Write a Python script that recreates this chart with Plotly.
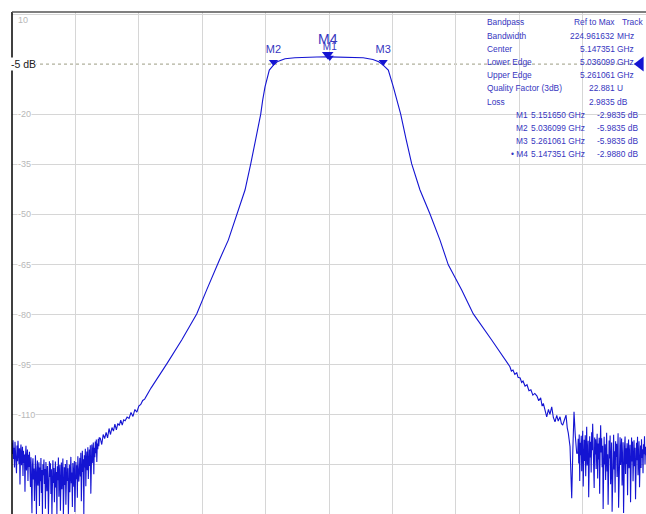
import numpy as np
import plotly.graph_objects as go

# ---------------- data ----------------
f_start, f_stop = 4.5, 5.8
grid_db = [10, -20, -35, -50, -65, -80, -95, -110, -125, -140]
label_db = [10, -20, -35, -50, -65, -80, -95, -110]
ref_level_db = -5

# left noise floor (dB), swept from 4.500 to 4.679 GHz
left_noise_db = [
    -118.4, -121.7, -117.6, -123.2, -119.9, -125.8, -118.1, -122.4, -120.3, -127.5, -119.2, -123.9,
    -117.8, -121.6, -124.7, -120.0, -130.9, -121.3, -118.9, -125.1, -122.2, -119.6, -128.3, -120.8,
    -124.4, -121.9, -133.0, -122.6, -119.3, -126.7, -123.5, -120.4, -129.8, -122.0, -125.6, -121.1,
    -124.3, -131.6, -122.7, -127.9, -139.5, -125.2, -123.0, -129.4, -126.1, -135.8, -124.6, -122.1,
    -128.7, -140.0, -126.9, -123.7, -131.2, -127.4, -124.2, -137.3, -125.8, -129.9, -122.9, -133.4,
    -126.5, -140.0, -124.8, -128.1, -123.4, -130.7, -126.2, -138.1, -124.1, -127.6, -132.9, -125.3,
    -129.2, -140.0, -126.7, -123.9,
    -128.6, -124.5, -133.7, -126.3, -140.0, -127.8, -123.6, -130.4, -125.9, -136.2, -128.2, -124.0,
    -131.8, -127.1, -140.0, -125.4, -129.6, -122.8, -134.5, -127.5, -125.0, -138.7, -129.1, -124.3,
    -132.3, -126.6, -123.1, -140.0, -128.4, -125.7, -131.0, -124.7, -136.9, -127.0, -123.5, -129.8,
    -126.0, -140.0, -128.9, -124.9, -133.2, -125.6, -122.6, -130.5, -127.3, -137.6, -124.4, -128.0,
    -131.5, -123.8, -139.1, -126.4, -124.1, -129.3, -125.1, -134.8, -122.4, -127.2, -130.0, -124.6,
    -122.9, -128.5, -121.4, -135.9, -124.2, -120.8, -127.1, -123.3, -140.0, -122.1, -125.8, -120.2,
    -131.4, -123.9, -121.0, -126.6, -119.7, -129.2, -122.6, -120.4, -125.3, -119.1, -133.6, -121.8,
    -118.9, -124.5, -120.6, -118.3, -127.8, -119.9, -122.7, -118.0, -121.5, -117.4, -124.1, -118.6,
    -120.3, -117.2, -119.4, -116.9]
left_noise_range = [4.500, 4.679]

left_jitter_f = [4.681, 4.684, 4.687, 4.690, 4.693, 4.696, 4.699, 4.702, 4.705, 4.708,
                 4.711, 4.714, 4.717, 4.720, 4.723, 4.726, 4.729, 4.732, 4.736, 4.740,
                 4.744, 4.748, 4.752, 4.756, 4.760, 4.764, 4.768, 4.772, 4.776, 4.780,
                 4.785, 4.790, 4.795, 4.800, 4.806, 4.812, 4.818]
left_jitter_db = [-117.0, -118.9, -115.9, -117.1, -115.3, -116.9, -114.1, -115.9, -113.8, -114.9,
                  -112.8, -114.5, -112.6, -113.2, -111.6, -113.1, -111.5, -111.8, -110.7, -111.1,
                  -109.3, -110.5, -108.4, -109.2, -107.4, -106.9, -105.7, -105.3, -104.2, -103.4,
                  -102.0, -100.9, -99.8, -98.7, -97.3, -96.1, -94.6]

left_skirt_f = [4.848, 4.8787, 4.8992, 4.9197, 4.9251, 4.9435, 4.962, 4.9778, 4.9895,
                5.0003, 5.0100, 5.0141, 5.0188, 5.0276]
left_skirt_db = [-87.6, -79.8, -72.6, -65.1, -63.7, -57.7, -49.9, -42.7, -34.9,
                 -27.4, -20.0, -15.7, -11.8, -6.8]

passband_f = [5.0361, 5.045, 5.06, 5.08, 5.10, 5.125, 5.15, 5.175, 5.20, 5.22, 5.24, 5.252, 5.2611]
passband_db = [-5.3, -4.2, -3.4, -3.1, -2.95, -2.88, -2.85, -2.88, -2.95, -3.1, -3.6, -4.3, -5.3]

right_skirt_f = [5.2716, 5.2819, 5.2888, 5.2970, 5.3079, 5.3196, 5.3366, 5.3571, 5.3776,
                 5.3913, 5.3946, 5.4221, 5.4459, 5.4836, 5.5100, 5.5177]
right_skirt_db = [-6.8, -11.8, -15.7, -20.0, -27.4, -34.9, -42.7, -49.9, -57.7,
                  -63.7, -65.1, -72.6, -79.8, -87.6, -93.4, -95.1]

right_ripple_f = [5.5210, 5.5240, 5.5273, 5.5310, 5.5350, 5.5376, 5.5420, 5.5450, 5.5478, 5.5520,
                  5.5560, 5.5600, 5.5640, 5.5680, 5.5720, 5.5765, 5.5800, 5.5840, 5.5870, 5.5895,
                  5.5930, 5.5964, 5.6000, 5.6030, 5.6067, 5.6100, 5.6134, 5.6170, 5.6200, 5.6237,
                  5.6265, 5.6292, 5.6330, 5.6360, 5.6385, 5.6407, 5.6442, 5.6462, 5.6477, 5.6500,
                  5.6524, 5.6550, 5.6579]
right_ripple_db = [-95.6, -96.9, -96.6, -97.9, -97.4, -98.8, -99.0, -100.3, -99.9, -101.4,
                   -101.0, -102.8, -102.5, -104.1, -103.6, -104.4, -105.8, -104.9, -107.4, -106.6,
                   -109.2, -110.6, -108.4, -109.9, -107.6, -110.8, -112.1, -110.2, -111.9, -110.6,
                   -112.6, -113.1, -111.4, -110.1, -113.9, -115.5, -119.5, -126.8, -135.0, -120.3,
                   -109.1, -116.2, -121.5]

# right noise floor (dB), swept from 5.660 to 5.800 GHz
right_noise_db = [
    -121.5, -117.2, -124.6, -115.9, -129.8, -118.4, -122.1, -116.3, -126.9, -119.7, -114.8, -131.5,
    -120.2, -117.5, -123.8, -116.1, -128.4, -118.9, -113.6, -125.2, -121.0, -117.8, -134.7, -119.5,
    -116.4, -122.8, -118.1, -127.3, -115.2, -120.6, -112.7, -124.3, -119.0, -131.9, -116.8, -121.9,
    -117.3, -126.2, -120.1, -115.7, -129.1, -118.6, -123.4, -116.9, -133.6, -119.8,
    -113.1, -121.3, -117.0, -125.7, -119.3, -138.2, -122.5, -116.6, -124.9, -118.8, -129.5, -120.7,
    -115.4, -127.0, -121.8, -136.9, -119.1, -117.7, -123.1, -116.2, -130.8, -122.0, -118.3, -139.0,
    -124.2, -119.6, -116.0, -126.4, -120.9, -133.3, -117.9, -122.6, -118.7, -128.6, -121.4, -115.5,
    -137.8, -123.7, -119.2, -116.7,
    -125.0, -120.4, -117.1, -131.2, -121.7, -118.2, -139.4, -123.0, -119.4, -116.5, -127.7, -120.0,
    -124.7, -118.5, -134.1, -121.2, -117.4, -126.0, -122.3, -119.0, -136.2, -120.8, -116.8, -124.0,
    -118.0, -129.9, -121.6, -117.6, -125.4, -119.9, -135.3, -122.4, -118.4, -123.6, -116.6, -128.1,
    -120.5, -117.9, -131.7, -121.1, -119.2, -125.9, -117.3, -122.9, -120.3, -127.5, -118.8, -121.8,
    -116.4, -124.8, -119.6, -122.1]
right_noise_range = [5.660, 5.800]

# markers
marker_names = ["M1", "M2", "M3", "M4"]
marker_freq = [5.151650, 5.036099, 5.261061, 5.147351]
marker_tri_db = [-3.0, -4.4, -4.4, -2.1]   # triangle positions

# readout table
info_labels = ["Bandpass", "Bandwidth", "Center", "Lower Edge", "Upper Edge",
               "Quality Factor (3dB)", "Loss"]
info_values = ["Ref to Max", "224.961632", "5.147351", "5.036099", "5.261061", "22.881", "2.9835"]
info_units = ["Track", "MHz", "GHz", "GHz", "GHz", "U", "dB"]
mk_rows_name = ["M1", "M2", "M3", "M4"]
mk_rows_freq = ["5.151650 GHz", "5.036099 GHz", "5.261061 GHz", "5.147351 GHz"]
mk_rows_val = ["-2.9835 dB", "-5.9835 dB", "-5.9835 dB", "-2.9880 dB"]

# ---------------- figure ----------------
W, H = 646, 514
ML, MT = 12, 12
PW, PH = W - ML, H - MT


def px_x(px):   # page pixel -> paper fraction
    return (px - ML) / PW


def px_y(py):
    return 1 - (py - MT) / PH


freq = np.concatenate([
    np.linspace(left_noise_range[0], left_noise_range[1], len(left_noise_db)),
    left_jitter_f, left_skirt_f, passband_f, right_skirt_f, right_ripple_f,
    np.linspace(right_noise_range[0], right_noise_range[1], len(right_noise_db)),
])
db = np.concatenate([left_noise_db, left_jitter_db, left_skirt_db, passband_db,
                     right_skirt_db, right_ripple_db, right_noise_db])

TRACE = "#1414d2"
TXT = "#3636c0"
fig = go.Figure()
fig.add_trace(go.Scatter(x=freq, y=db, mode="lines",
                         line=dict(color=TRACE, width=1.1), hoverinfo="skip"))

mk_font = "Liberation Sans, Arial, sans-serif"
for i, sz, fs in [(1, 8, 11), (2, 8, 11), (0, 7, 10), (3, 10, 14)]:
    fig.add_trace(go.Scatter(x=[marker_freq[i]], y=[marker_tri_db[i]], mode="markers+text",
                             marker=dict(symbol="triangle-down", size=sz, color=TRACE),
                             text=[marker_names[i]], textposition="top center",
                             textfont=dict(color=TXT, size=fs, family=mk_font),
                             cliponaxis=False, hoverinfo="skip"))
# reference level arrow at right edge
fig.add_trace(go.Scatter(x=[5.7885], y=[ref_level_db], mode="markers",
                         marker=dict(symbol="triangle-left", size=13, color=TRACE),
                         cliponaxis=False, hoverinfo="skip"))

annotations = []
for v in label_db:
    annotations.append(dict(xref="paper", yref="y", x=0, y=v, xanchor="left",
                            yanchor="top" if v == 10 else "middle", xshift=5,
                            text=str(v), showarrow=False, bgcolor="white" if v != 10 else None,
                            borderpad=0,
                            font=dict(size=9, color="#b8b8b8", family="Liberation Sans, Arial")))
annotations.append(dict(xref="paper", yref="y", x=0, y=ref_level_db, xanchor="left", yanchor="middle",
                        xshift=-2, text="-5 dB", showarrow=False, bgcolor="white", borderpad=0,
                        font=dict(size=10.5, color="#202020", family="Liberation Sans, Arial")))

row_y = [22.5 + 13.2 * k for k in range(11)]
fam = "Liberation Sans, Arial, sans-serif"
FS = 8.4
for k in range(7):
    annotations.append(dict(xref="paper", yref="paper", x=px_x(485), y=px_y(row_y[k]),
                            xanchor="left", yanchor="middle", text=info_labels[k], showarrow=False,
                            font=dict(size=FS, color=TXT, family=fam)))
    annotations.append(dict(xref="paper", yref="paper", x=px_x(617), y=px_y(row_y[k]),
                            xanchor="right", yanchor="middle", text=info_values[k], showarrow=False,
                            font=dict(size=FS, color=TXT, family=fam)))
    annotations.append(dict(xref="paper", yref="paper", x=px_x(615 if k else 620), y=px_y(row_y[k]),
                            xanchor="left", yanchor="middle", text=info_units[k], showarrow=False,
                            font=dict(size=FS, color=TXT, family=fam)))
for k in range(4):
    yy = px_y(row_y[7 + k])
    annotations.append(dict(xref="paper", yref="paper", x=px_x(530), y=yy, xanchor="right",
                            yanchor="middle", text=("• " if k == 3 else "") + mk_rows_name[k],
                            showarrow=False, font=dict(size=FS, color=TXT, family=fam)))
    annotations.append(dict(xref="paper", yref="paper", x=px_x(587), y=yy, xanchor="right",
                            yanchor="middle", text=mk_rows_freq[k], showarrow=False,
                            font=dict(size=FS, color=TXT, family=fam)))
    annotations.append(dict(xref="paper", yref="paper", x=px_x(640), y=yy, xanchor="right",
                            yanchor="middle", text=mk_rows_val[k], showarrow=False,
                            font=dict(size=FS, color=TXT, family=fam)))

shapes = [
    dict(type="line", xref="paper", yref="y", x0=px_x(34), x1=1, y0=ref_level_db, y1=ref_level_db,
         line=dict(color="#9c9c84", width=1, dash="dot"), layer="below"),
    dict(type="line", xref="paper", yref="paper", x0=0, x1=0, y0=0, y1=1,
         line=dict(color="#000000", width=1.5)),
    dict(type="line", xref="paper", yref="paper", x0=0, x1=1, y0=1, y1=1,
         line=dict(color="#555555", width=1.5)),
]

fig.update_layout(
    width=W, height=H, margin=dict(l=ML, r=0, t=MT, b=0, pad=0),
    paper_bgcolor="white", plot_bgcolor="white", showlegend=False,
    xaxis=dict(range=[f_start, f_stop], tick0=f_start, dtick=(f_stop - f_start) / 10,
               showgrid=True, gridcolor="#d6d6d6", gridwidth=1, showticklabels=False,
               zeroline=False, showline=False, ticks=""),
    yaxis=dict(range=[-139.7, 10.6], tickmode="array", tickvals=grid_db,
               showgrid=True, gridcolor="#d6d6d6", gridwidth=1, showticklabels=False,
               zeroline=False, showline=False, ticks=""),
    annotations=annotations, shapes=shapes,
)

fig.write_html("out.html", config={"displayModeBar": False},
               post_script="document.body.style.margin='0';document.body.style.overflow='hidden';")
